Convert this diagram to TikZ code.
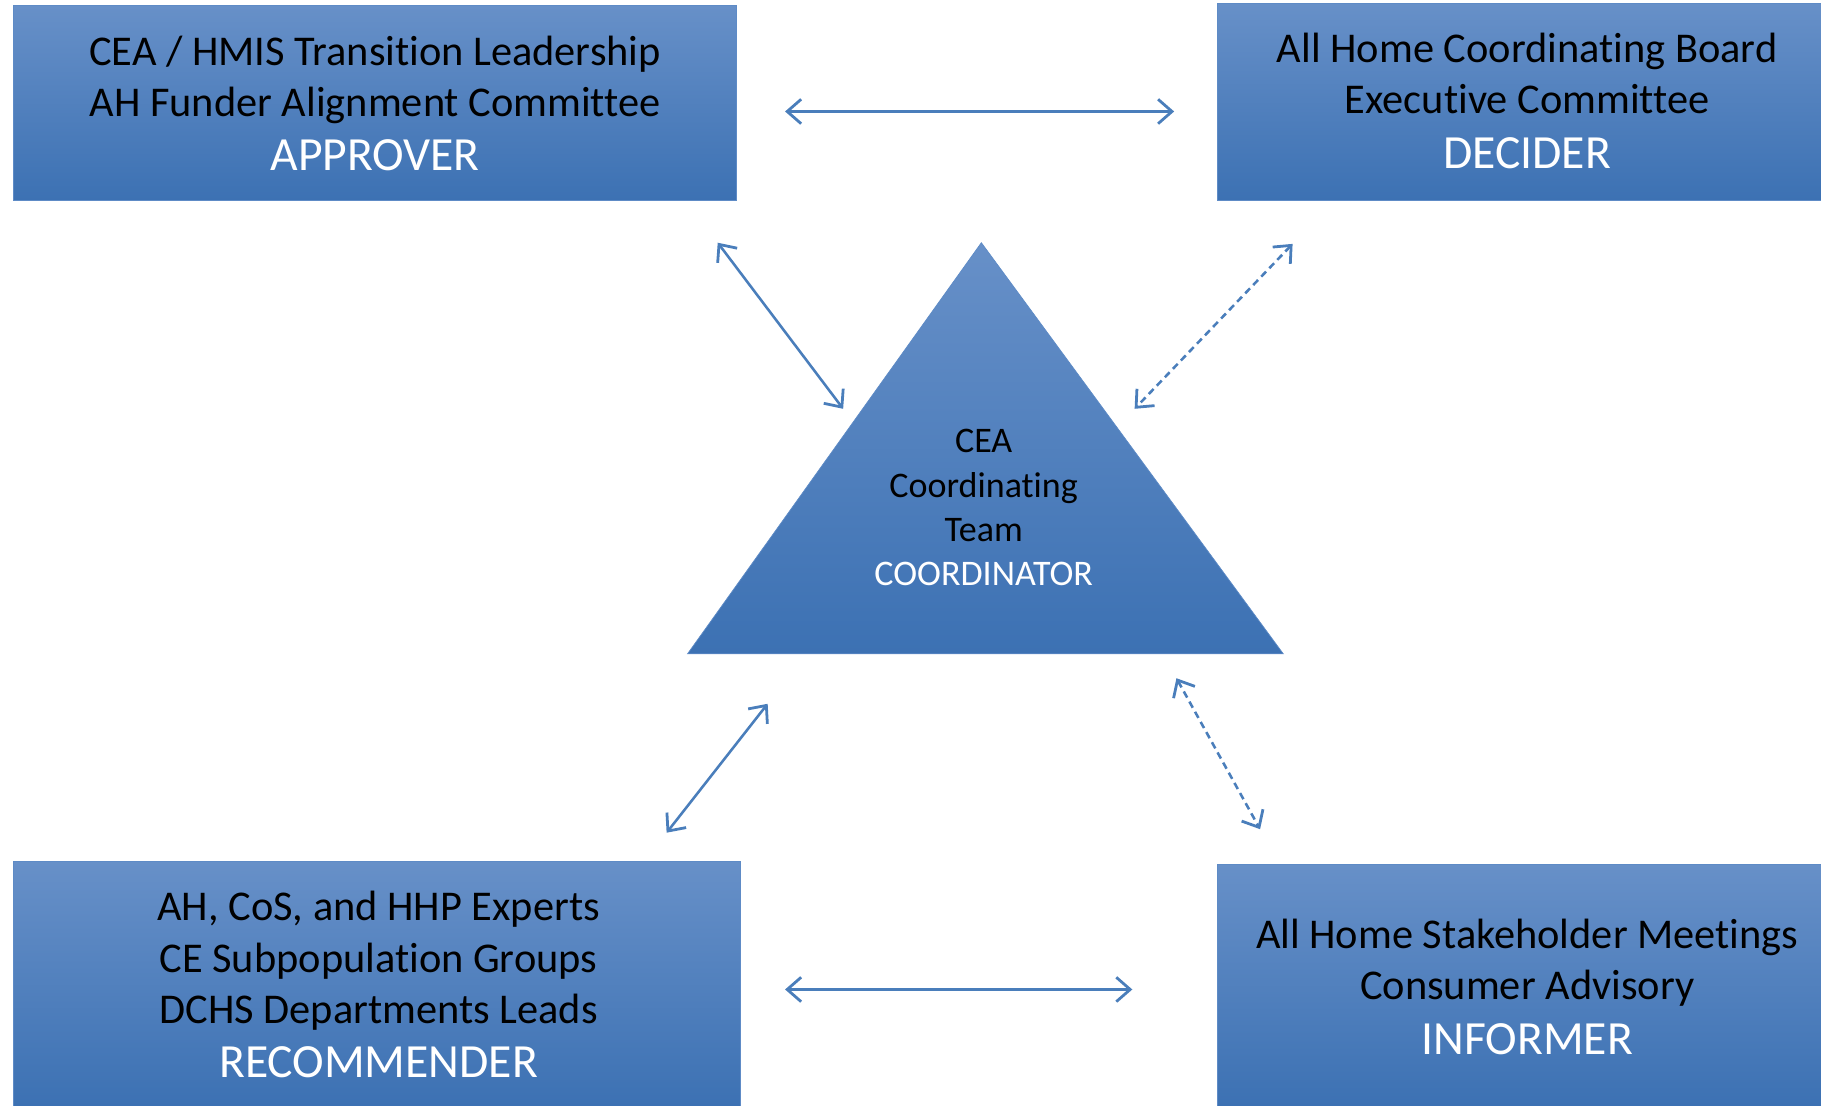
\documentclass[tikz,border=0pt]{standalone}
\usepackage{fontspec}
\setmainfont{Carlito}[Ligatures={NoCommon}]
\usetikzlibrary{arrows.meta}
\definecolor{boxtop}{HTML}{6790C8}
\definecolor{boxbot}{HTML}{3C71B3}
\definecolor{boxline}{HTML}{5E8BC6}
\definecolor{arrowc}{HTML}{4A7EBB}
\tikzset{
  rolebox/.style={draw=boxline, line width=0.8pt, top color=boxtop, bottom color=boxbot},
  bigtxt/.style={anchor=base, inner sep=0pt, text=black, font=\fontsize{36.5}{44}\selectfont},
  roletxt/.style={anchor=base, inner sep=0pt, text=white, font=\fontsize{41}{48}\selectfont},
  tritxt/.style={anchor=base, inner sep=0pt, text=black, font=\fontsize{31}{38}\selectfont},
  triwhite/.style={tritxt, text=white},
  link/.style={draw=arrowc, line width=2.2pt, {Straight Barb[length=12pt,width=21pt,line width=2.4pt]}-{Straight Barb[length=12pt,width=21pt,line width=2.4pt]}},
  dlink/.style={link, dash pattern=on 6pt off 4pt}
}
\begin{document}
\begin{tikzpicture}[x=1pt,y=-1pt]
\useasboundingbox (0,0) rectangle (1568,952);
% boxes
\path[rolebox] (12,5) rectangle (634,173);
\node[inner sep=0pt] (approver) at (323,89) {};
\path[rolebox] (1048,3) rectangle (1569,173);
\node[inner sep=0pt] (decider) at (1315,88) {};
\path[rolebox] (12,742) rectangle (638,953);
\node[inner sep=0pt] (recommender) at (326,848) {};
\path[rolebox] (1048,744) rectangle (1569,953);
\node[inner sep=0pt] (informer) at (1315,850) {};
% triangle
\shade[top color=boxtop, bottom color=boxbot, draw=boxline, line width=0.6pt] (845,209) -- (1105,563) -- (592,563) -- cycle;
\node[inner sep=0pt] (coord) at (847,440) {};
% texts
\node[bigtxt] (t1) at (323,56) {CEA / HMIS Transition Leadership};
\node[bigtxt] (t2) at (323,100) {AH Funder Alignment Committee};
\node[roletxt] (t3) at (323,147) {APPROVER};
\node[bigtxt] (t4) at (1315,54) {All Home Coordinating Board};
\node[bigtxt] (t5) at (1315,98) {Executive Committee};
\node[roletxt] (t6) at (1315,145) {DECIDER};
\node[bigtxt] (t7) at (326,793) {AH, CoS, and HHP Experts};
\node[bigtxt] (t8) at (326,837) {CE Subpopulation Groups};
\node[bigtxt] (t9) at (326,881) {DCHS Departments Leads};
\node[roletxt] (t10) at (326,928) {RECOMMENDER};
\node[bigtxt] (t11) at (1315,817) {All Home Stakeholder Meetings};
\node[bigtxt] (t12) at (1315,861) {Consumer Advisory};
\node[roletxt] (t13) at (1315,908) {INFORMER};
\node[tritxt] (t14) at (847,390) {CEA};
\node[tritxt] (t15) at (847,428) {Coordinating};
\node[tritxt] (t16) at (847,466) {Team};
\node[triwhite] (t17) at (847,504) {COORDINATOR};
% arrow end points
\coordinate (a1) at (676,96);   \coordinate (a2) at (1011,96);
\coordinate (b1) at (618,209);  \coordinate (b2) at (726,352);
\coordinate (c1) at (1113,210); \coordinate (c2) at (977,352);
\coordinate (d1) at (661,606);  \coordinate (d2) at (574,717);
\coordinate (e1) at (1013,584); \coordinate (e2) at (1085,714);
\coordinate (f1) at (676,852);  \coordinate (f2) at (975,852);
\draw[link] (a1) -- (a2);
\draw[link] (b1) -- (b2);
\draw[dlink] (c1) -- (c2);
\draw[link] (d1) -- (d2);
\draw[dlink] (e1) -- (e2);
\draw[link] (f1) -- (f2);
\end{tikzpicture}
\end{document}
